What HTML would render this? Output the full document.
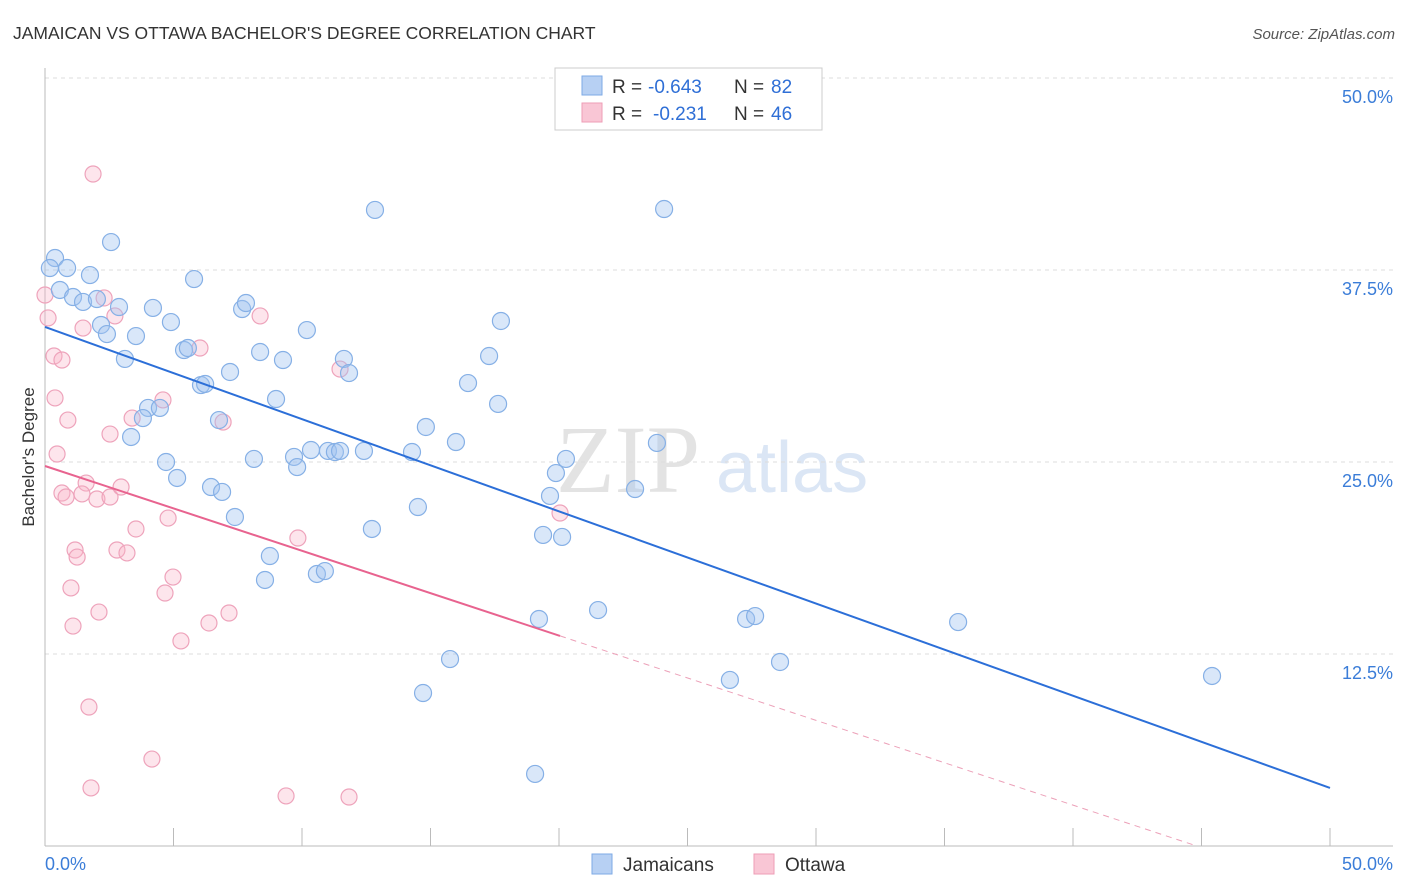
<!DOCTYPE html>
<html><head><meta charset="utf-8"><style>
body{margin:0;background:#fff;font-family:"Liberation Sans",sans-serif;}
#wrap{position:relative;width:1406px;height:892px;overflow:hidden;}
</style></head><body>
<div id="wrap">
<svg id="svg" width="1406" height="892" xmlns="http://www.w3.org/2000/svg">
<text x="13" y="39" font-size="17.5" fill="#333">JAMAICAN VS OTTAWA BACHELOR'S DEGREE CORRELATION CHART</text>
<text x="1395" y="39" font-size="15" fill="#555" font-style="italic" text-anchor="end">Source: ZipAtlas.com</text>
<text transform="translate(34,457) rotate(-90)" font-size="17" fill="#333" text-anchor="middle">Bachelor's Degree</text>
<g>
<text x="556" y="492" font-size="96" fill="#e3e3e3" font-family="Liberation Serif,serif">ZIP</text>
<text x="716" y="492" font-size="72" fill="#dbe6f5">atlas</text>
</g>
<g id="grid"></g><g id="axes"></g><g id="marks"></g>
<g>
<rect x="555" y="68" width="267" height="62" fill="#fff" stroke="#ccc"/>
<rect x="582" y="76" width="20" height="19" fill="#b7d0f3" stroke="#7eaae6"/>
<rect x="582" y="103" width="20" height="19" fill="#f9c6d5" stroke="#ee9db6"/>
<g font-size="19">
<text x="612" y="93" fill="#333">R =</text><text x="648" y="93" fill="#2f6fd6">-0.643</text>
<text x="734" y="93" fill="#333">N =</text><text x="771" y="93" fill="#2f6fd6">82</text></g>
<g font-size="19">
<text x="612" y="120" fill="#333">R =</text><text x="653" y="120" fill="#2f6fd6">-0.231</text>
<text x="734" y="120" fill="#333">N =</text><text x="771" y="120" fill="#2f6fd6">46</text></g>
</g>
<g>
<rect x="592" y="854" width="20" height="20" fill="#b7d0f3" stroke="#7eaae6"/>
<text x="623" y="871" font-size="19" fill="#333">Jamaicans</text>
<rect x="754" y="854" width="20" height="20" fill="#f9c6d5" stroke="#ee9db6"/>
<text x="785" y="871" font-size="19" fill="#333">Ottawa</text>
</g>
</svg>
</div>
<script>
const yTicks=[12.5,25,37.5,50];
const yTickLabels=["12.5%","25.0%","37.5%","50.0%"];
const xTickLabels=["0.0%","50.0%"];
const blueX=[.39,.19,.86,1.75,.58,1.09,1.48,2.02,2.88,2.18,2.41,3.54,4.20,4.90,5.80,2.57,3.11,5.41,5.56,6.07,6.23,7.20,7.67,7.82,8.37,9.26,10.19,8.99,11.63,11.83,12.84,17.74,17.28,16.46,17.63,4.01,4.47,3.81,3.35,4.71,5.14,6.46,6.89,7.39,6.77,8.13,9.69,9.81,10.35,11.01,11.28,11.48,12.41,14.28,14.82,15.99,8.75,8.56,10.58,10.89,12.72,14.51,19.38,19.65,19.88,20.27,20.12,22.96,23.81,24.09,21.52,19.22,15.76,14.71,19.07,26.65,27.28,27.63,28.60,35.53,45.41];
const blueY=[38.28,37.63,37.63,37.17,36.20,35.74,35.42,35.61,35.09,33.92,33.33,33.20,35.03,34.11,36.91,39.32,31.71,32.29,32.42,30.01,30.08,30.86,34.96,35.35,32.16,31.64,33.59,29.10,31.71,30.79,41.41,34.18,31.90,30.14,28.78,28.52,28.52,27.86,26.63,25.0,23.96,23.37,23.05,21.42,27.73,25.20,25.33,24.67,25.78,25.72,25.65,25.72,25.72,25.65,27.28,26.30,18.88,17.32,17.71,17.90,20.64,22.07,20.25,22.79,24.28,25.20,20.12,23.24,26.24,41.47,15.36,14.78,12.17,9.96,4.69,10.81,14.78,14.97,11.98,14.58,11.07];
const pinkX=[1.87,0,.12,2.30,2.72,1.48,.35,.66,.39,.89,2.53,3.39,4.59,6.93,6.03,8.37,.47,1.60,.66,.82,1.44,2.02,2.53,2.96,4.79,3.54,1.17,1.25,2.80,3.19,1.01,2.10,1.09,4.98,4.67,5.29,6.38,7.16,9.84,11.48,20.04,1.71,4.16,1.79,9.38,11.83];
const pinkY=[43.75,35.87,34.38,35.68,34.51,33.72,31.90,31.64,29.17,27.73,26.82,27.86,29.04,27.60,32.42,34.51,25.52,23.63,22.98,22.72,22.92,22.59,22.72,23.37,21.35,20.64,19.27,18.81,19.27,19.08,16.80,15.23,14.32,17.51,16.47,13.35,14.52,15.17,20.05,31.05,21.68,9.05,5.66,3.78,3.26,3.19];
const blueTrend=[33.79,-0.6002];
const pinkTrend=[24.74,-0.552];
const pinkSolidEnd=20.04;

const NS="http://www.w3.org/2000/svg";
const X=v=>45+v*25.7, Y=v=>846-v*15.36;
function mk(tag,attrs,parent){const e=document.createElementNS(NS,tag);for(const k in attrs)e.setAttribute(k,attrs[k]);document.getElementById(parent).appendChild(e);return e;}
yTicks.forEach((t,i)=>{
 const g=mk('line',{x1:45,x2:1393,y1:Y(t),y2:Y(t),stroke:'#dcdcdc','stroke-dasharray':'4,4'},'grid');
 
 
 const l=mk('text',{x:1393,y:Y(t)+25,'font-size':18,fill:'#3b7dd8','text-anchor':'end'},'axes');
 l.textContent=yTickLabels[i];
 
 
});
const ax=mk('line',{x1:45,x2:1393,y1:846,y2:846,stroke:'#bbb'},'axes');


const ay=mk('line',{x1:45,x2:45,y1:68,y2:846,stroke:'#bbb'},'axes');


for(let i=1;i<=10;i++){
 const t=mk('line',{x1:X(i*5),x2:X(i*5),y1:828,y2:846,stroke:'#bbb'},'axes');
 
 
}
[0,50].forEach((v,i)=>{
 const l=mk('text',{x:i?1393:45,y:870,'font-size':18,fill:'#3b7dd8','text-anchor':i?'end':'start'},'axes');
 l.textContent=xTickLabels[i];
 
 
});
pinkX.forEach((x,i)=>{
 const c=mk('circle',{cx:X(x),cy:Y(pinkY[i]),r:8,fill:'rgba(248,180,200,0.35)',stroke:'#eea3bb','stroke-width':1.2},'marks');
 
 
});
blueX.forEach((x,i)=>{
 const c=mk('circle',{cx:X(x),cy:Y(blueY[i]),r:8.5,fill:'rgba(160,195,240,0.4)',stroke:'#86b0e6','stroke-width':1.2},'marks');
 
 
});
const bl=mk('line',{x1:X(0),y1:Y(blueTrend[0]),x2:X(50),y2:Y(blueTrend[0]+blueTrend[1]*50),stroke:'#2c6fd8','stroke-width':2},'marks');


const ps=mk('line',{x1:X(0),y1:Y(pinkTrend[0]),x2:X(pinkSolidEnd),y2:Y(pinkTrend[0]+pinkTrend[1]*pinkSolidEnd),stroke:'#e8638f','stroke-width':2},'marks');


const xz=-pinkTrend[0]/pinkTrend[1];
const pd=mk('line',{x1:X(pinkSolidEnd),y1:Y(pinkTrend[0]+pinkTrend[1]*pinkSolidEnd),x2:X(xz),y2:Y(0),stroke:'#eca0b8','stroke-width':1,'stroke-dasharray':'6,5'},'marks');


</script>
</body></html>
